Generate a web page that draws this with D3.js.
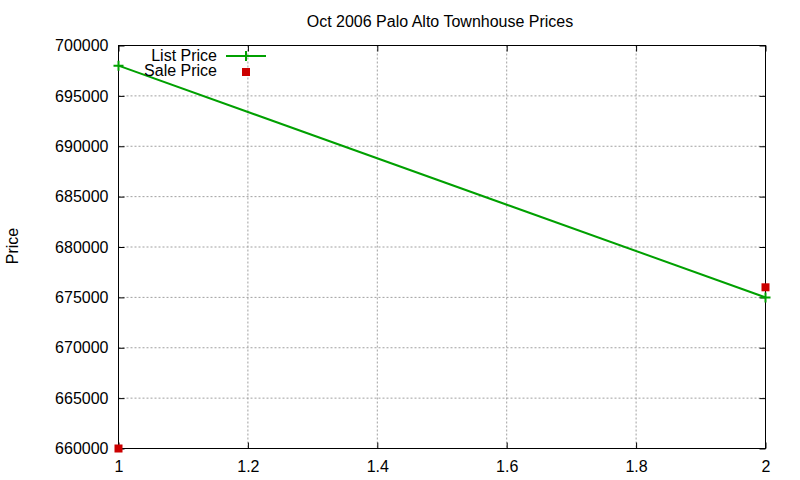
<!DOCTYPE html>
<html><head><meta charset="utf-8">
<script src="https://cdn.jsdelivr.net/npm/d3@7"></script>
<style>body{margin:0;background:#fff}svg{display:block;font-family:"Liberation Sans",Arial,sans-serif}</style>
</head><body><svg id="c" width="800" height="480"></svg>
<script>
const title = "Oct 2006 Palo Alto Townhouse Prices";
const yLabel = "Price";
const xValues = [1, 2];
const listPrice = [698000, 675000];
const saleX = [1, 2];
const salePrice = [660000, 676000];
const xTicks = [1, 1.2, 1.4, 1.6, 1.8, 2];
const yTicks = [660000, 665000, 670000, 675000, 680000, 685000, 690000, 695000, 700000];
const seriesNames = ["List Price", "Sale Price"];

const svg = d3.select("#c");
const L = 118.5, R = 765.5, T = 45.5, B = 448.5;
const x = d3.scaleLinear().domain([1, 2]).range([L, R]);
const y = d3.scaleLinear().domain([660000, 700000]).range([B, T]);
const green = "#00a000", red = "#cc0000";
const FS = 16;

// grid
const g = svg.append("g");
g.selectAll(".gx").data(xTicks.slice(1, -1)).join("line")
  .attr("x1", d => x(d)).attr("x2", d => x(d)).attr("y1", T).attr("y2", B)
  .attr("stroke", "#a0a0a0").attr("stroke-dasharray", "2,2");
g.selectAll(".gy").data(yTicks.slice(1, -1)).join("line")
  .attr("x1", L).attr("x2", R).attr("y1", d => y(d)).attr("y2", d => y(d))
  .attr("stroke", "#a0a0a0").attr("stroke-dasharray", "2,2");

// axes
const fmt = d => String(d);
const ax = (gen, tr) => svg.append("g").attr("transform", tr).call(gen)
  .call(s => s.select(".domain").remove());
ax(d3.axisBottom(x).tickValues(xTicks).tickFormat(fmt).tickSizeInner(-6).tickPadding(12), `translate(0,${B})`);
ax(d3.axisTop(x).tickValues(xTicks).tickFormat("").tickSizeInner(-6), `translate(0,${T})`);
ax(d3.axisLeft(y).tickValues(yTicks).tickFormat(fmt).tickSizeInner(-6).tickPadding(10), `translate(${L},0)`);
ax(d3.axisRight(y).tickValues(yTicks).tickFormat("").tickSizeInner(-6), `translate(${R},0)`);
svg.selectAll(".tick line").attr("stroke", "#000");
svg.selectAll(".tick text").attr("font-size", FS).attr("fill", "#000")
  .attr("font-family", "Liberation Sans, Arial, sans-serif");

svg.append("rect").attr("x", L).attr("y", T).attr("width", R - L).attr("height", B - T)
  .attr("fill", "none").attr("stroke", "#000").attr("stroke-width", 1);

// title / label
svg.append("text").attr("x", 440).attr("y", 27).attr("text-anchor", "middle")
  .attr("font-size", FS).text(title);
svg.append("text").attr("transform", "translate(18,246) rotate(-90)").attr("text-anchor", "middle")
  .attr("font-size", FS).text(yLabel);

// list price line
const pts = xValues.map((d, i) => [d, listPrice[i]]);
svg.append("path").datum(pts)
  .attr("d", d3.line().x(d => x(d[0])).y(d => y(d[1])))
  .attr("fill", "none").attr("stroke", green).attr("stroke-width", 2);
const cross = (sel, cx, cy) => {
  sel.append("path").attr("d", `M${cx - 5},${cy}H${cx + 5}M${cx},${cy - 5}V${cy + 5}`)
    .attr("stroke", green).attr("stroke-width", 2);
};
pts.forEach(p => cross(svg, x(p[0]), y(p[1])));

// sale price squares
svg.selectAll(".sq").data(saleX.map((d, i) => [d, salePrice[i]])).join("rect")
  .attr("x", d => x(d[0]) - 4).attr("y", d => y(d[1]) - 4).attr("width", 8).attr("height", 8)
  .attr("fill", red);

// legend
svg.append("text").attr("x", 217).attr("y", 61).attr("text-anchor", "end").attr("font-size", FS).text(seriesNames[0]);
svg.append("line").attr("x1", 226).attr("x2", 266).attr("y1", 56).attr("y2", 56).attr("stroke", green).attr("stroke-width", 2);
cross(svg, 246, 56);
svg.append("text").attr("x", 217).attr("y", 76).attr("text-anchor", "end").attr("font-size", FS).text(seriesNames[1]);
svg.append("rect").attr("x", 242).attr("y", 68).attr("width", 8).attr("height", 8).attr("fill", red);
</script></body></html>
